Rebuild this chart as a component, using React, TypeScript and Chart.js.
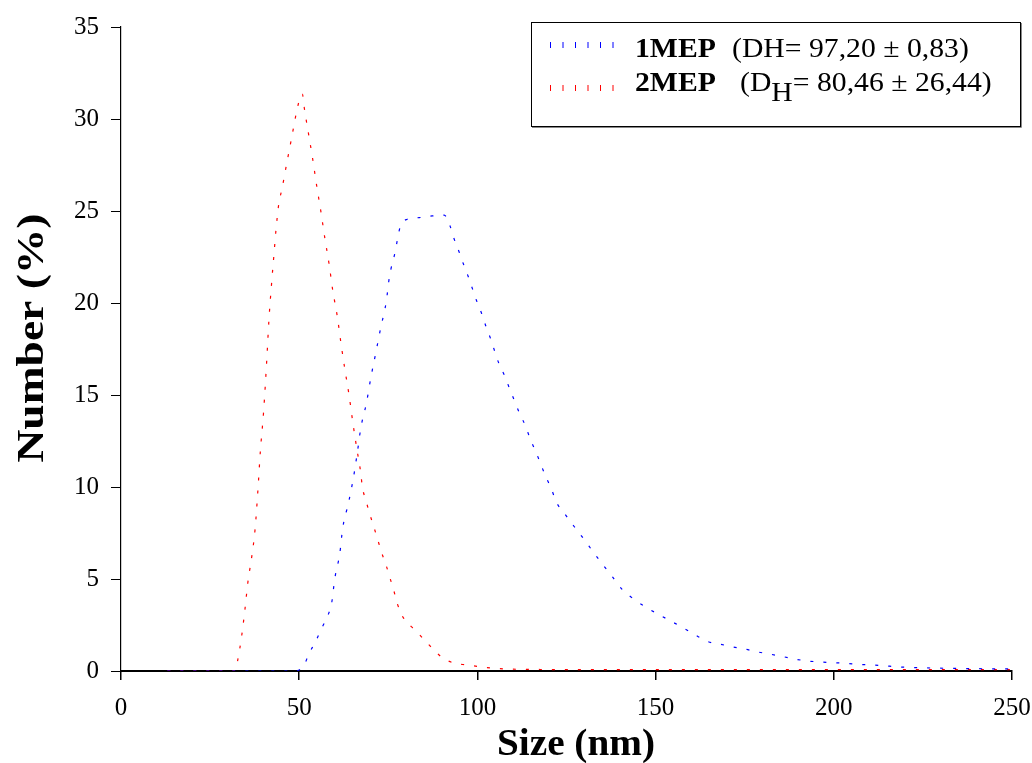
import { useEffect, useRef } from 'react';
import { Chart, registerables } from 'chart.js';

Chart.register(...registerables);

// 2MEP (red) – size (nm) and number (%)
const sizeRed = [13, 16.5, 20, 23.5, 27, 30.5, 32, 32.7, 33.9, 34.8, 35.6, 36.7, 37.6, 38.4, 39.1, 40.0, 40.9, 41.5, 42.3, 42.9, 43.5, 44.3, 45.1, 46.5, 47.9, 49.3, 50.2, 50.9, 51.4, 52.6, 53.8, 54.9, 56.1, 57.2, 58.4, 59.4, 60.7, 61.7, 62.8, 64.0, 65.0, 66.1, 67.3, 67.7, 68.7, 69.7, 70.9, 72.0, 73.1, 74.4, 75.5, 76.6, 77.6, 79.2, 82.7, 86.2, 89.8, 93.5, 97.2, 100.7, 104.5, 108.2, 120, 140, 160, 180, 200, 220, 250];
const numRed = [0, 0, 0, 0, 0, 0, 0, 0.54, 1.96, 3.39, 4.82, 6.23, 7.66, 9.78, 11.94, 14.06, 16.9, 19.06, 21.18, 22.6, 24.0, 25.43, 26.14, 27.59, 29.0, 30.43, 31.12, 31.36, 30.64, 29.22, 27.81, 26.38, 24.95, 23.52, 22.1, 20.7, 19.26, 17.84, 16.41, 14.98, 13.57, 12.16, 10.72, 10.02, 9.29, 8.59, 7.86, 7.16, 6.45, 5.74, 5.04, 4.33, 3.62, 2.9, 2.19, 1.47, 0.78, 0.42, 0.33, 0.23, 0.15, 0.11, 0.08, 0.07, 0.07, 0.07, 0.07, 0.07, 0.07];

// 1MEP (blue)
const sizeBlue = [13, 20, 27, 34, 41, 48.5, 51.2, 52.8, 54.6, 56.3, 58.0, 59.1, 60.0, 61.4, 62.2, 63.8, 65.2, 66.3, 67.3, 68.9, 70.1, 71.5, 72.9, 74.4, 75.3, 76.9, 78.3, 80.3, 83.7, 87.3, 90.7, 92.3, 93.4, 94.8, 96.0, 97.4, 98.6, 99.8, 101.2, 102.4, 103.7, 104.9, 106.1, 107.7, 109.1, 110.5, 111.9, 113.6, 114.8, 116.4, 117.8, 119.2, 120.8, 122.1, 124.6, 127.2, 129.9, 132.5, 135.2, 137.9, 140.6, 143.7, 147.1, 150.8, 154.2, 157.8, 161.3, 164.8, 168.3, 171.8, 175.3, 178.8, 182.3, 185.8, 189.3, 192.8, 196.4, 199.9, 203.4, 206.9, 210.4, 213.9, 217.4, 220.4, 223.9, 227.5, 230.9, 237.9, 250];
const numBlue = [0, 0, 0, 0, 0, 0, 0.27, 0.96, 1.61, 2.32, 3.0, 3.68, 5.04, 6.4, 7.76, 9.11, 10.49, 11.86, 13.22, 14.6, 15.94, 17.3, 18.68, 20.04, 21.4, 22.76, 24.11, 24.55, 24.64, 24.73, 24.78, 24.2, 23.52, 22.81, 22.16, 21.45, 20.78, 20.11, 19.42, 18.73, 18.06, 17.35, 16.68, 16.02, 15.31, 14.64, 13.97, 13.28, 12.61, 11.92, 11.23, 10.56, 9.88, 9.2, 8.52, 7.84, 7.16, 6.47, 5.78, 5.11, 4.44, 3.93, 3.49, 3.08, 2.72, 2.34, 1.94, 1.59, 1.45, 1.30, 1.18, 1.03, 0.91, 0.78, 0.64, 0.54, 0.49, 0.45, 0.42, 0.36, 0.33, 0.29, 0.23, 0.2, 0.18, 0.16, 0.15, 0.13, 0.11];

const xMin = 0, xMax = 250, xStep = 50;
const yMin = 0, yMax = 35, yStep = 5;

const X_TITLE = 'Size (nm)';
const Y_TITLE = 'Number (%)';
const LEG1_NAME = '1MEP';
const LEG1_TEXT = '(DH= 97,20 \u00B1 0,83)';
const LEG2_NAME = '2MEP';
const LEG2_PRE = '(D';
const LEG2_SUB = 'H';
const LEG2_POST = '= 80,46 \u00B1 26,44)';

const SERIF = "'Liberation Serif', 'Times New Roman', serif";

const overlayPlugin = {
  id: 'overlay',
  afterDraw(chart: any) {
    const ctx: CanvasRenderingContext2D = chart.ctx;
    ctx.save();
    ctx.fillStyle = '#000';

    const drawFit = (text: string, font: string, cx: number, cy: number, target: number, rot: number) => {
      ctx.save();
      ctx.font = font;
      const w = ctx.measureText(text).width;
      ctx.translate(cx, cy);
      ctx.rotate(rot);
      ctx.scale(target / w, 1);
      ctx.textAlign = 'center';
      ctx.textBaseline = 'middle';
      ctx.fillText(text, 0, 0);
      ctx.restore();
    };

    drawFit(Y_TITLE, `bold 38px ${SERIF}`, 33, 338, 249, -Math.PI / 2);
    drawFit(X_TITLE, `bold 38px ${SERIF}`, 576, 745, 158, 0);

    // Legend box
    ctx.strokeStyle = '#000';
    ctx.lineWidth = 1;
    ctx.strokeRect(531.5, 22.5, 489, 104);
    ctx.strokeStyle = '#888';
    ctx.beginPath();
    ctx.moveTo(532, 127.5);
    ctx.lineTo(1021.5, 127.5);
    ctx.lineTo(1021.5, 23);
    ctx.stroke();

    const sx = 1.1;
    const seg = (text: string, x: number, base: number, bold: boolean) => {
      ctx.save();
      ctx.font = `${bold ? 'bold ' : ''}27px ${SERIF}`;
      const w = ctx.measureText(text).width * sx;
      ctx.translate(x, base);
      ctx.scale(sx, 1);
      ctx.textAlign = 'left';
      ctx.textBaseline = 'alphabetic';
      ctx.fillText(text, 0, 0);
      ctx.restore();
      return w;
    };

    const marks = (color: string, y: number) => {
      ctx.save();
      ctx.strokeStyle = color;
      ctx.lineWidth = 1;
      for (let i = 0; i < 6; i++) {
        const x = 550.5 + i * 12.5;
        ctx.beginPath();
        ctx.moveTo(x, y - 3);
        ctx.lineTo(x, y + 3);
        ctx.stroke();
      }
      ctx.restore();
    };

    marks('#0000ff', 45);
    seg(LEG1_NAME, 635, 57, true);
    seg(LEG1_TEXT, 732, 57, false);

    marks('#ff0000', 88);
    seg(LEG2_NAME, 635, 91, true);
    let x = 740;
    x += seg(LEG2_PRE, x, 91, false);
    x += seg(LEG2_SUB, x, 101, false);
    seg(LEG2_POST, x, 91, false);

    ctx.restore();
  },
};

export default function App() {
  const ref = useRef<HTMLCanvasElement | null>(null);

  useEffect(() => {
    if (!ref.current) return;
    const chart = new Chart(ref.current, {
      type: 'line',
      data: {
        datasets: [
          {
            label: LEG1_NAME,
            data: sizeBlue.map((v, i) => ({ x: v, y: numBlue[i] })),
            borderColor: '#0000ff',
            borderWidth: 1.2,
            borderDash: [3, 10],
            pointRadius: 0,
            fill: false,
            cubicInterpolationMode: 'monotone',
          },
          {
            label: LEG2_NAME,
            data: sizeRed.map((v, i) => ({ x: v, y: numRed[i] })),
            borderColor: '#ff0000',
            borderWidth: 1.2,
            borderDash: [3, 10],
            pointRadius: 0,
            fill: false,
            cubicInterpolationMode: 'monotone',
          },
        ],
      },
      options: {
        responsive: false,
        animation: false,
        events: [],
        layout: { padding: { left: 0, top: 27, right: 20, bottom: 0 } },
        plugins: {
          legend: { display: false },
          tooltip: { enabled: false },
          title: { display: false },
        },
        scales: {
          x: {
            type: 'linear',
            min: xMin,
            max: xMax,
            ticks: {
              stepSize: xStep,
              color: '#000',
              font: { family: SERIF, size: 25 },
              padding: 13,
              maxRotation: 0,
            },
            grid: {
              display: true,
              drawOnChartArea: false,
              drawTicks: true,
              tickLength: 9,
              color: '#000',
              lineWidth: 1.5,
            },
            border: { display: true, color: '#000', width: 2 },
            afterFit: (s: any) => {
              s.height = 92;
              s.paddingLeft = 0;
              s.paddingRight = 0;
            },
          },
          y: {
            type: 'linear',
            min: yMin,
            max: yMax,
            ticks: {
              stepSize: yStep,
              color: '#000',
              font: { family: SERIF, size: 25 },
              padding: 12,
            },
            grid: {
              display: true,
              drawOnChartArea: false,
              drawTicks: true,
              tickLength: 10,
              color: '#000',
              lineWidth: 1,
            },
            border: { display: true, color: '#000', width: 1.2 },
            afterFit: (s: any) => {
              s.width = 121;
              s.paddingTop = 0;
              s.paddingBottom = 0;
            },
          },
        },
      },
      plugins: [overlayPlugin],
    });
    return () => chart.destroy();
  }, []);

  return (
    <div style={{ position: 'absolute', left: 0, top: 0, width: 1032, height: 763, background: '#fff' }}>
      <canvas ref={ref} width={1032} height={763} style={{ display: 'block' }} />
    </div>
  );
}
